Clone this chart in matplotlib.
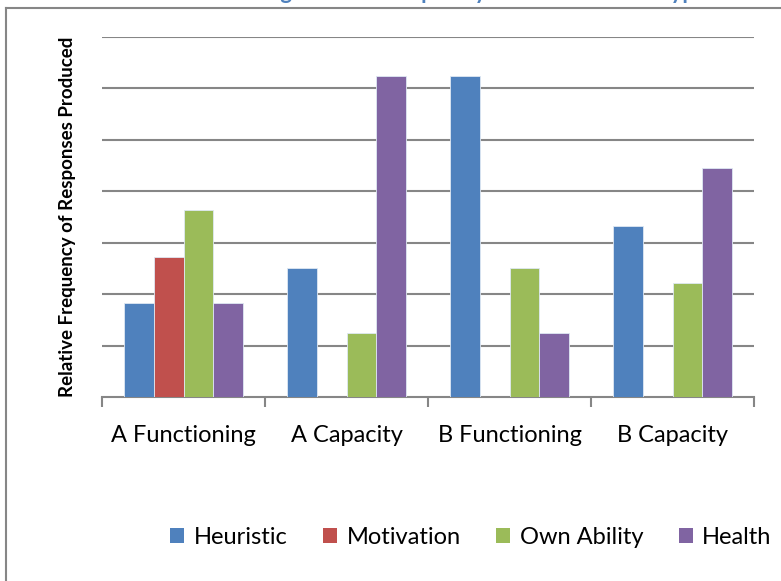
import numpy as np
import matplotlib
matplotlib.use("Agg")
import matplotlib.pyplot as plt
from matplotlib.lines import Line2D
from matplotlib.patches import Patch

plt.rcParams['font.family'] = ['Lato', 'DejaVu Sans']

# relative frequency of each reason type per condition
categories = ['A Functioning', 'A Capacity', 'B Functioning', 'B Capacity']
series = ['Heuristic', 'Motivation', 'Own Ability', 'Health']
heuristic = [2 / 11, 2 / 8, 5 / 8, 3 / 9]
motivation = [3 / 11, 0, 0, 0]
own_ability = [4 / 11, 1 / 8, 2 / 8, 2 / 9]
health = [2 / 11, 5 / 8, 1 / 8, 4 / 9]
colors = ['#4F81BD', '#C0504D', '#9BBB59', '#8064A2']

W, H = 781, 581
fig = plt.figure(figsize=(W / 100, H / 100), dpi=100)
ax = fig.add_axes([102 / W, 1 - 397 / H, (754 - 102) / W, (397 - 37) / H])

x = np.arange(len(categories))
bw = 0.1815
for i, (vals, c) in enumerate(zip([heuristic, motivation, own_ability, health], colors)):
    ax.bar(x + (i - 1.5) * bw, vals, width=bw, color=c, edgecolor='#dfe8f3',
           linewidth=0.6, zorder=3, label=series[i])

ax.set_xlim(-0.5, len(categories) - 0.5)
ax.set_ylim(0, 0.7)
ax.set_yticks(np.arange(0.1, 0.71, 0.1))
ax.yaxis.grid(True, color='#868686', linewidth=1.5, zorder=0)
ax.tick_params(axis='y', length=0, labelleft=False)

# category separators as tick marks on the x axis
ax.set_xticks(np.arange(-0.5, len(categories), 1.0))
ax.set_xticklabels([])
ax.tick_params(axis='x', direction='out', length=7, width=1.5, color='#868686')
for xi, lab in zip(x, categories):
    ax.text(xi, -0.074, lab, ha='center', va='center', fontsize=17,
            transform=ax.transData)

for side in ['left', 'right', 'top']:
    ax.spines[side].set_visible(False)
ax.spines['bottom'].set_color('#868686')
ax.spines['bottom'].set_linewidth(1.5)

fig.text(68 / W, 1 - 217 / H, 'Relative Frequency of Responses Produced',
         rotation=90, ha='center', va='center', fontsize=13.5, fontweight='bold')

# chart title sits above the top edge, only its descenders show
fig.text(222 / W, 1 + 1 / H, 'Coding Scheme Frequency for Each Reason Type',
         ha='left', va='baseline', fontsize=16, fontweight='bold', color='#4F81BD')

# chart frame
fig.add_artist(Line2D([6 / W, 1], [1 - 8 / H, 1 - 8 / H], color='#868686', linewidth=1.5))
fig.add_artist(Line2D([6 / W, 6 / W], [0, 1 - 8 / H], color='#868686', linewidth=1.5))

handles = [Patch(facecolor=c, edgecolor='none') for c in colors]
fig.legend(handles, series, loc='center', bbox_to_anchor=(471 / W, 1 - 537 / H),
           ncol=4, frameon=False, fontsize=17, handlelength=0.6, handleheight=0.6,
           handletextpad=0.4, columnspacing=1.5)

fig.savefig('out.png', dpi=100)
